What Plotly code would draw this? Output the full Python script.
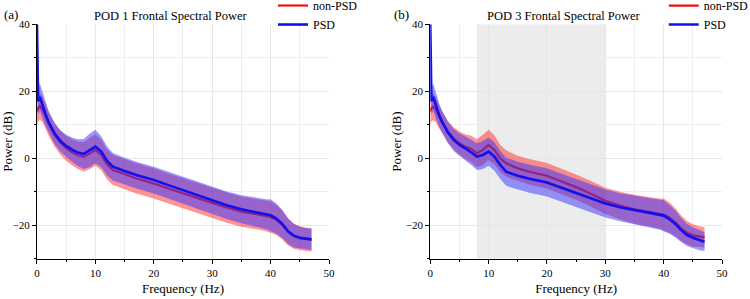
import plotly.graph_objects as go

# ---------------- data ----------------
freq = [0, 0.2, 0.5, 1, 1.5, 2, 3, 4, 5, 6, 7, 8, 9, 10, 11, 12, 13, 14, 15, 17,
        20, 22.5, 25, 27.5, 30, 32.5, 35, 38, 39.5, 40, 41, 42, 43, 44, 45, 46, 47]

# Panel (a) POD 1
a_psd = [40, 17, 18.3, 15.5, 13, 10.8, 7.5, 5.2, 3.7, 2.6, 1.7, 1.3, 2.3, 3.5, 2, -0.8, -2.5, -3.2, -3.8, -5,
         -6.5, -8, -9.5, -11, -12.6, -14, -15.2, -16.3, -16.8, -17, -18, -19.6, -21.8, -23.1, -23.7, -24, -24.2]
a_non = [14, 15, 15.6, 14.5, 12.5, 10.3, 7, 4.7, 3, 1.8, 0.9, 0.5, 1.4, 2.5, 1, -1.8, -3.5, -4.2, -4.7, -6,
         -7.5, -9, -10.5, -12, -13.3, -14.7, -15.9, -16.8, -17.3, -17.5, -18.4, -19.9, -22, -23.3, -23.9, -24.2, -24.3]
a_psd_sd = [4, 4, 4, 3.8, 3.5, 3.3, 3.2, 3.2, 3.3, 3.6, 4, 4.5, 5, 5, 4.6, 4.3, 4.1, 4, 4, 4,
            4, 4, 4, 4, 4, 4.1, 4.2, 4.3, 4.5, 4.8, 4.5, 4.2, 3.8, 3.5, 3.3, 3.2, 3.2]
a_non_sd = [4, 4, 4, 3.8, 3.6, 3.5, 3.5, 3.6, 3.7, 3.9, 4.1, 4.4, 4.7, 4.7, 4.6, 4.5, 4.5, 4.5, 4.5, 4.5,
            4.5, 4.5, 4.5, 4.5, 4.5, 4.5, 4.5, 4.5, 4.6, 4.7, 4.5, 4.3, 4, 3.8, 3.6, 3.5, 3.5]

# Panel (b) POD 3
b_psd = [40, 17, 18.3, 15.5, 13, 11, 7.8, 5.5, 4, 3, 1.8, 0.5, 1, 2, 0.5, -2, -4, -4.6, -5.2, -6.1,
         -7.2, -8.8, -10.3, -11.9, -13.5, -14.6, -15.5, -16.4, -16.9, -17.1, -18.2, -19.6, -21.4, -22.9, -23.7, -24.4, -24.9]
b_non = [14, 15, 15.4, 14.5, 12.5, 10.8, 8, 6, 4.5, 3.5, 2.8, 1.5, 2.5, 4, 2.5, 0, -1.5, -2.3, -3, -4,
         -5.2, -6.9, -8.6, -10.6, -12.7, -14.1, -15.2, -16.1, -16.6, -16.8, -17.7, -19.1, -20.9, -22.2, -23, -23.4, -23.6]
b_psd_sd = [4, 4, 4, 3.8, 3.5, 3.3, 3.2, 3.3, 3.4, 3.6, 3.8, 4, 4.2, 4.2, 4.2, 4.2, 4.2, 4.2, 4.2, 4.2,
            4.2, 4.2, 4.2, 4.2, 4.2, 4.2, 4.3, 4.4, 4.5, 4.6, 4.3, 4, 3.6, 3.3, 3.1, 3, 2.8]
b_non_sd = [4, 4, 4, 3.8, 3.5, 3.3, 3.2, 3.3, 3.5, 3.7, 3.9, 4.2, 4.5, 4.5, 4.3, 4, 3.9, 3.8, 3.8, 3.8,
            3.8, 3.8, 3.8, 3.8, 3.9, 4.1, 4.3, 4.4, 4.5, 4.8, 4.5, 4.2, 3.8, 3.5, 3.3, 3.1, 3]

titles = ["POD 1 Frontal Spectral Power", "POD 3 Frontal Spectral Power"]
panel_labels = ["(a)", "(b)"]
shade_range = [8, 30]

RED = "#ee1111"
BLUE = "#1010ee"
RED_FILL = "rgba(255,60,60,0.55)"
BLUE_FILL = "rgba(50,50,255,0.5)"
FONT = "Times New Roman, Liberation Serif, serif"

fig = go.Figure()


def add_panel(idx, psd, non, psd_sd, non_sd):
    xa = "x" if idx == 0 else "x2"
    ya = "y" if idx == 0 else "y2"
    lg = "legend" if idx == 0 else "legend2"
    non_up = [m + s for m, s in zip(non, non_sd)]
    non_lo = [m - s for m, s in zip(non, non_sd)]
    psd_up = [m + s for m, s in zip(psd, psd_sd)]
    psd_lo = [m - s for m, s in zip(psd, psd_sd)]
    fig.add_trace(go.Scatter(x=freq + freq[::-1], y=non_up + non_lo[::-1], fill="toself",
                             fillcolor=RED_FILL, line=dict(width=0), mode="lines",
                             hoverinfo="skip", showlegend=False, xaxis=xa, yaxis=ya))
    fig.add_trace(go.Scatter(x=freq, y=non, mode="lines", line=dict(color=RED, width=2.2),
                             name="non-PSD", legend=lg, xaxis=xa, yaxis=ya))
    fig.add_trace(go.Scatter(x=freq + freq[::-1], y=psd_up + psd_lo[::-1], fill="toself",
                             fillcolor=BLUE_FILL, line=dict(width=0), mode="lines",
                             hoverinfo="skip", showlegend=False, xaxis=xa, yaxis=ya))
    fig.add_trace(go.Scatter(x=freq, y=psd, mode="lines", line=dict(color=BLUE, width=2.6),
                             name="PSD", legend=lg, xaxis=xa, yaxis=ya))


add_panel(0, a_psd, a_non, a_psd_sd, a_non_sd)
add_panel(1, b_psd, b_non, b_psd_sd, b_non_sd)

ydom = [0.1344, 0.9187]
xdoms = [[0.0493, 0.4387], [0.5737, 0.9627]]

axis_common = dict(showline=True, linecolor="black", linewidth=1.2, ticks="outside",
                   ticklen=4, tickcolor="black", showgrid=True, gridcolor="#e6e6e6",
                   gridwidth=1, zeroline=False, mirror=False, automargin=False,
                   tickfont=dict(family=FONT, size=11, color="black"))

layout = dict(
    width=750, height=299, margin=dict(l=0, r=0, t=0, b=0, autoexpand=False),
    paper_bgcolor="white", plot_bgcolor="white",
    font=dict(family=FONT, size=12, color="black"),
)

for i in range(2):
    sx = "" if i == 0 else "2"
    layout["xaxis" + sx] = dict(
        axis_common, domain=xdoms[i], range=[0, 50], dtick=10, tick0=0,
        anchor="y" + sx,
        minor=dict(dtick=5, ticks="outside", ticklen=2, tickcolor="black",
                   showgrid=True, gridcolor="#eeeeee"),
        title=dict(text="Frequency (Hz)", font=dict(family=FONT, size=13), standoff=5),
    )
    layout["yaxis" + sx] = dict(
        axis_common, domain=ydom, range=[-30, 40], dtick=20, tick0=0,
        anchor="x" + sx,
        minor=dict(dtick=10, ticks="outside", ticklen=2, tickcolor="black",
                   showgrid=True, gridcolor="#eeeeee"),
        title=dict(text="Power (dB)", font=dict(family=FONT, size=13), standoff=1),
    )

layout["legend"] = dict(x=0.364, y=1.03, xanchor="left", yanchor="top",
                        bgcolor="rgba(0,0,0,0)", font=dict(family=FONT, size=12),
                        tracegroupgap=0, itemwidth=30)
layout["legend2"] = dict(x=0.885, y=1.03, xanchor="left", yanchor="top",
                         bgcolor="rgba(0,0,0,0)", font=dict(family=FONT, size=12),
                         tracegroupgap=0, itemwidth=30)

fig.update_layout(**layout)

fig.add_shape(type="rect", xref="x2", yref="y2", x0=shade_range[0], x1=shade_range[1],
              y0=-30, y1=40, fillcolor="#ececec", line=dict(width=0), layer="below")

centers = [0.228, 0.752]
for i in range(2):
    fig.add_annotation(text=titles[i], xref="paper", yref="paper", x=centers[i], y=0.945,
                       showarrow=False, xanchor="center", yanchor="middle",
                       font=dict(family=FONT, size=12.5, color="black"))
label_x = [0.003, 0.522]
for i in range(2):
    fig.add_annotation(text=panel_labels[i], xref="paper", yref="paper", x=label_x[i], y=0.952,
                       showarrow=False, xanchor="left", yanchor="middle",
                       font=dict(family=FONT, size=13, color="black"))

fig.write_html("out.html", config={"displayModeBar": False},
               post_script="document.body.style.margin='0';")
